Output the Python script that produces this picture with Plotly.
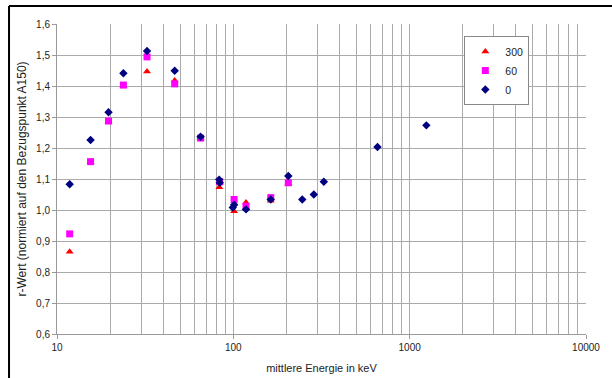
import plotly.graph_objects as go

# Data
energy_300 = [11.8, 15.5, 19.6, 23.8, 32.4, 46.5, 65.2, 83.3, 101, 118, 163, 205]
r_300 = [0.865, 1.155, 1.285, 1.402, 1.447, 1.418, 1.232, 1.073, 0.996, 1.024, 1.030, 1.085]

energy_60 = [11.8, 15.5, 19.6, 23.8, 32.4, 46.5, 65.2, 83.7, 101, 118, 163, 205]
r_60 = [0.923, 1.156, 1.287, 1.403, 1.494, 1.407, 1.232, 1.091, 1.034, 1.012, 1.040, 1.088]

energy_0 = [11.8, 15.5, 19.6, 23.8, 32.4, 46.5, 65.2, 83.1, 83.7, 99.3, 101.1, 118, 163,
            205, 246, 286, 326, 657, 1243]
r_0 = [1.083, 1.226, 1.315, 1.441, 1.513, 1.449, 1.236, 1.098, 1.088, 1.008, 1.017, 1.002,
       1.034, 1.110, 1.034, 1.050, 1.091, 1.203, 1.273]

series_names = ["300", "60", "0"]
x_major_ticks = [10, 100, 1000, 10000]
x_minor_ticks = [m * 10 ** d for d in range(1, 4) for m in range(2, 10)]

FONT = "Liberation Sans, Arial, sans-serif"
GRID = "#aaaaaa"

fig = go.Figure()
fig.add_trace(go.Scatter(x=energy_300, y=r_300, mode="markers", name=series_names[0],
                         marker=dict(symbol="triangle-up", size=7, color="#ff0000")))
fig.add_trace(go.Scatter(x=energy_60, y=r_60, mode="markers", name=series_names[1],
                         marker=dict(symbol="square", size=7, color="#ff00ff")))
fig.add_trace(go.Scatter(x=energy_0, y=r_0, mode="markers", name=series_names[2],
                         marker=dict(symbol="diamond", size=6.5, color="#000080")))

fig.update_layout(
    width=612, height=378,
    margin=dict(l=57, r=26, t=24, b=44, autoexpand=False),
    paper_bgcolor="white", plot_bgcolor="white",
    separators=",.",
    font=dict(family=FONT, size=10, color="#222"),
    showlegend=True,
    legend=dict(x=0.77, y=0.961, xanchor="left", yanchor="top",
                bgcolor="white", bordercolor="#888", borderwidth=1,
                font=dict(size=10.5, color="#222"), itemwidth=30,
                tracegroupgap=0),
    xaxis=dict(type="log", range=[1, 4], tickvals=x_major_ticks,
               ticktext=[str(v) for v in x_major_ticks],
               automargin=False,
               showgrid=True, gridcolor=GRID, gridwidth=1,
               minor=dict(tickvals=x_minor_ticks, showgrid=True, gridcolor=GRID, gridwidth=1),
               showline=True, linecolor="#999", linewidth=1,
               ticks="outside", ticklen=4, tickcolor="#999",
               zeroline=False,
               title=dict(text="mittlere Energie in keV", font=dict(size=11), standoff=12)),
    yaxis=dict(range=[0.6, 1.6], dtick=0.1, tick0=0.6, tickformat=".1f",
               automargin=False,
               showgrid=True, gridcolor=GRID, gridwidth=1,
               showline=True, linecolor="#999", linewidth=1,
               ticks="outside", ticklen=4, tickcolor="#999",
               zeroline=False,
               title=dict(text="r-Wert (normiert auf den Bezugspunkt A150)",
                          font=dict(size=12), standoff=6)),
    shapes=[
        dict(type="line", xref="paper", yref="paper", x0=-0.0907, x1=1.06,
             y0=1.058, y1=1.058, line=dict(color="black", width=2)),
        dict(type="line", xref="paper", yref="paper", x0=-0.0907, x1=-0.0907,
             y0=1.058, y1=-0.16, line=dict(color="black", width=2)),
    ],
)

fig.write_html("out.html",
               config={"displayModeBar": False},
               post_script="document.body.style.margin='0';document.body.style.padding='0';")
